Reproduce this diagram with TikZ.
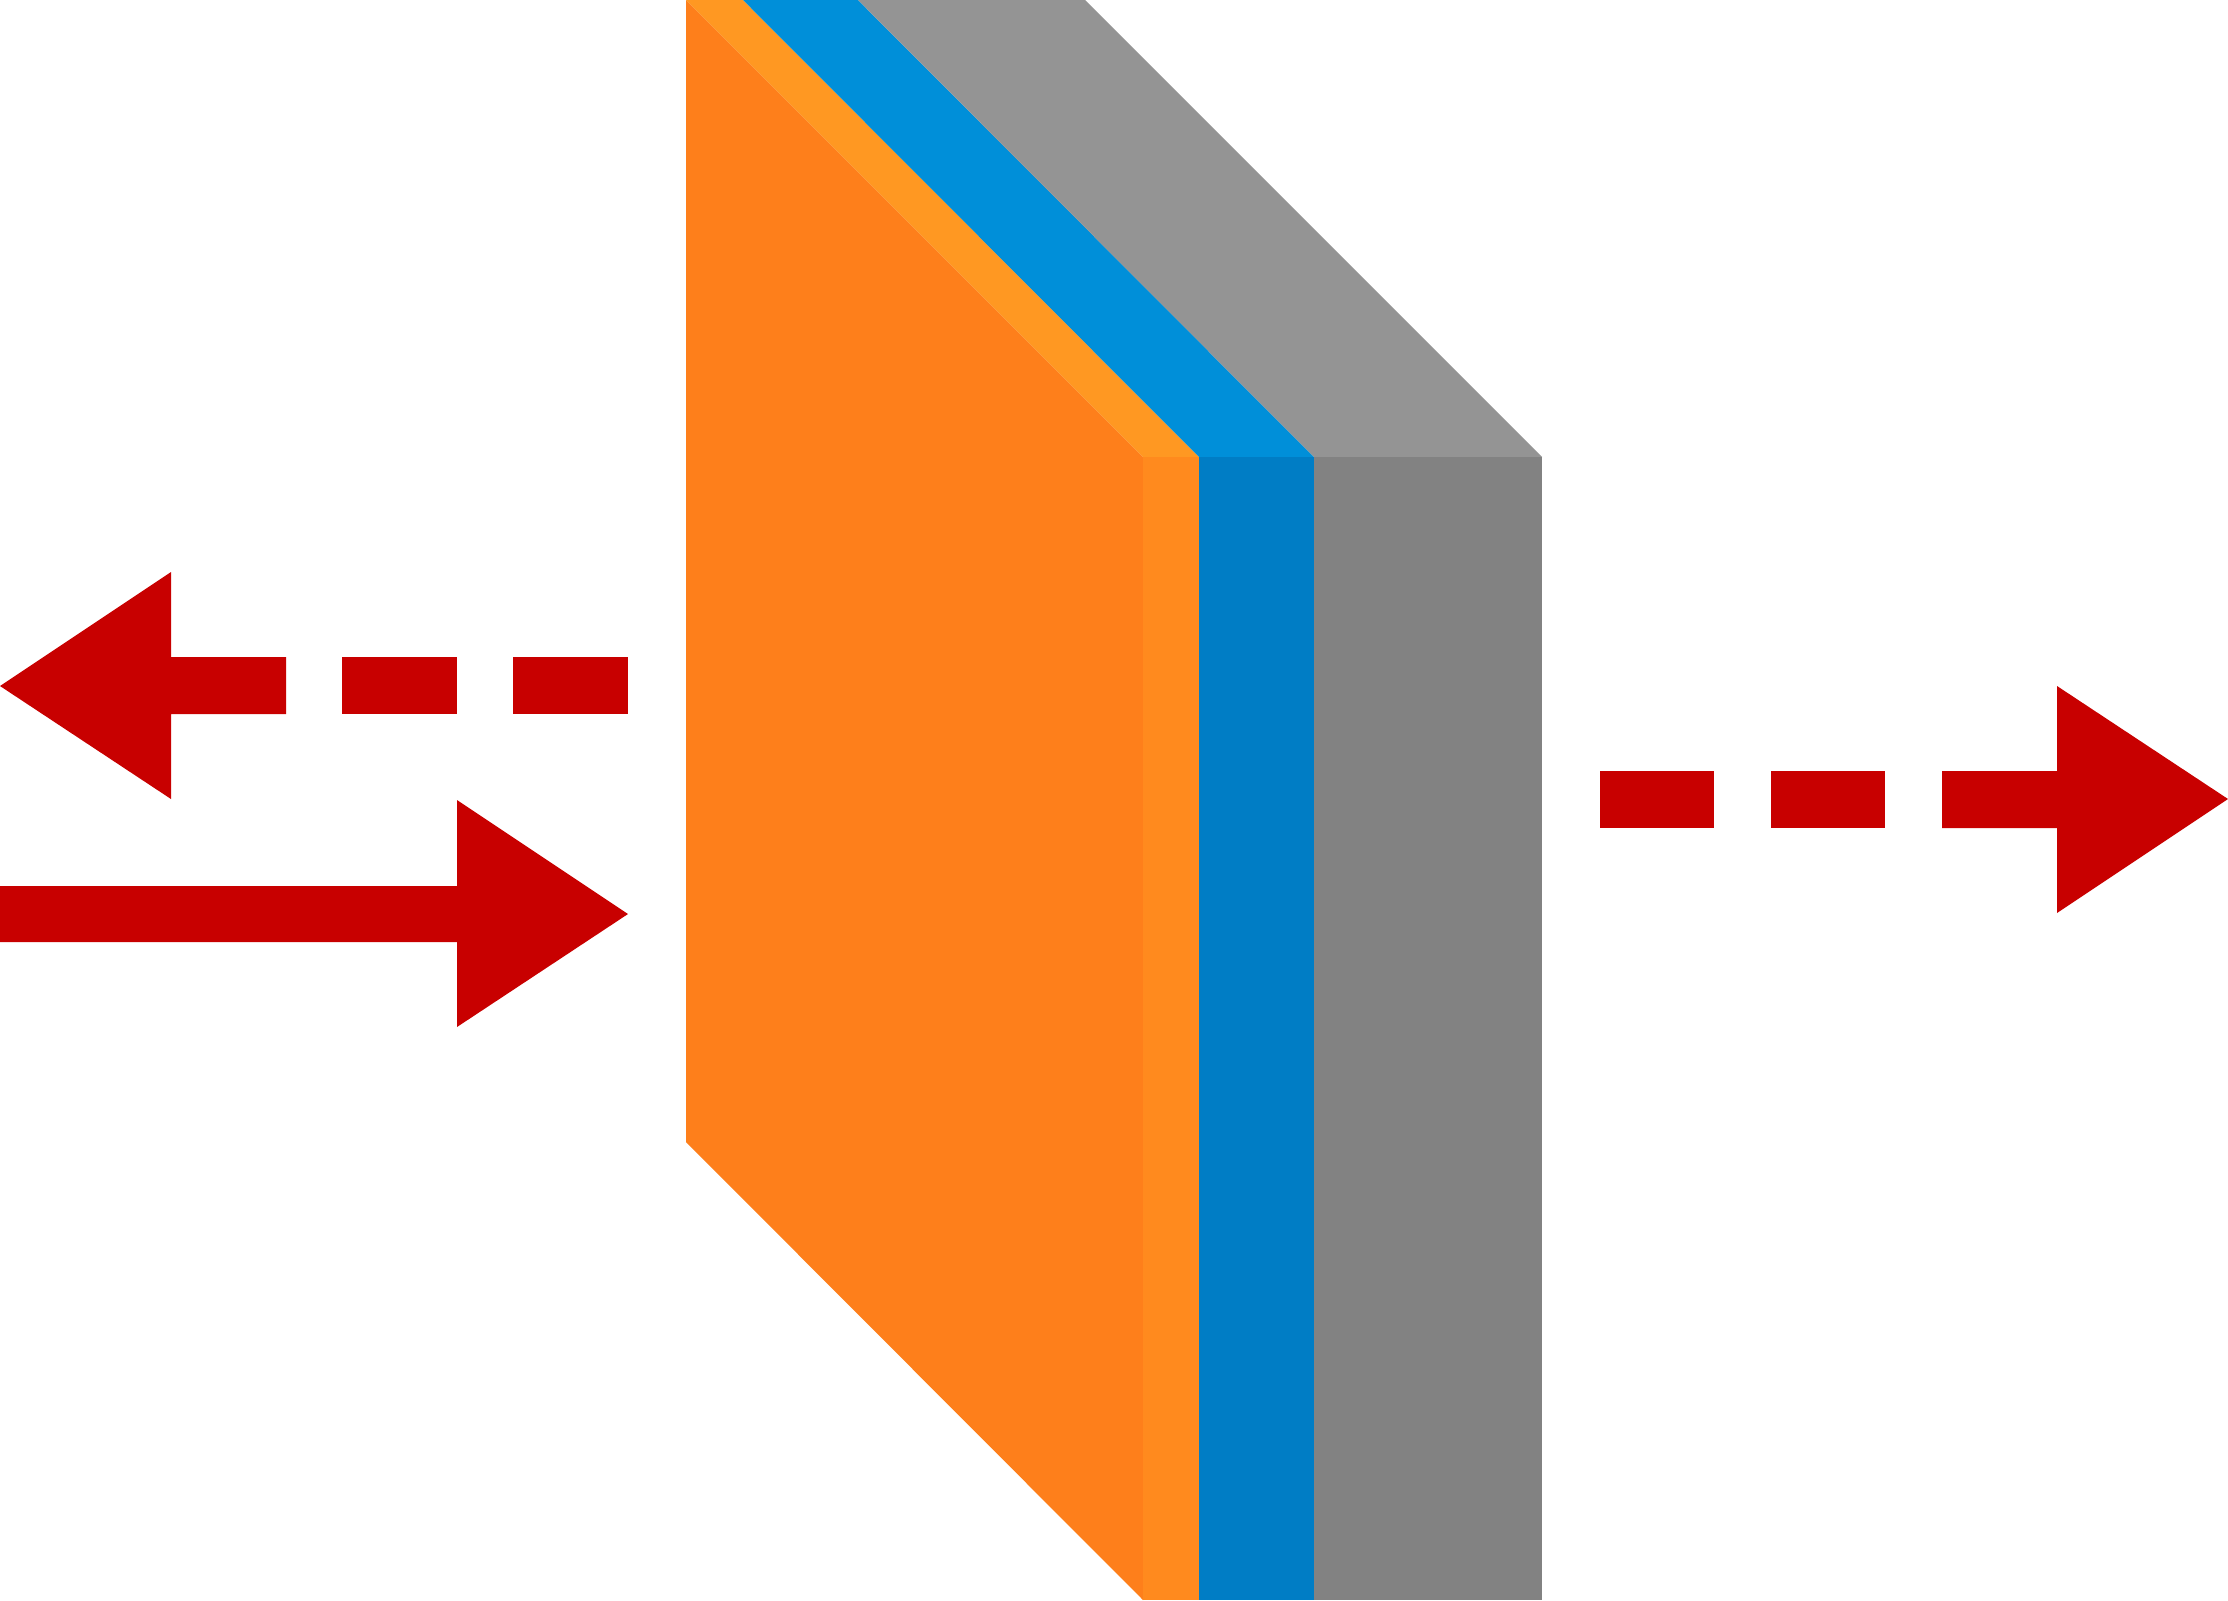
\documentclass[tikz,border=0pt]{standalone}
\definecolor{orfront}{HTML}{FE7F1B}
\definecolor{ortop}{HTML}{FF9822}
\definecolor{orside}{HTML}{FF8A1E}
\definecolor{bltop}{HTML}{008FD9}
\definecolor{blside}{HTML}{007DC5}
\definecolor{grtop}{HTML}{949494}
\definecolor{grside}{HTML}{828282}
\definecolor{arrred}{HTML}{C80000}
\tikzset{
  redshape/.style={fill=arrred, draw=none},
  face/.style={draw=none}
}
\begin{document}
\begin{tikzpicture}[x=0.01cm,y=-0.01cm]
\useasboundingbox (0,0) rectangle (2228,1600);
% slab: front face
\fill[orfront] (686,0) -- (1143,457) -- (1143,1600) -- (686,1142) -- cycle;
% top faces
\fill[ortop] (686,0) -- (743,0) -- (1199,457) -- (1143,457) -- cycle;
\fill[bltop] (743,0) -- (858,0) -- (1314,457) -- (1199,457) -- cycle;
\fill[grtop] (858,0) -- (1085,0) -- (1542,457) -- (1314,457) -- cycle;
% side faces
\fill[orside] (1143,457) rectangle (1199,1600);
\fill[blside] (1199,457) rectangle (1314,1600);
\fill[grside] (1314,457) rectangle (1542,1600);
% left dashed arrow (pointing left)
\fill[redshape] (0,686) -- (171,572) -- (171,657) -- (286,657) -- (286,714) -- (171,714) -- (171,799) -- cycle;
\fill[redshape] (342,657) rectangle (457,714);
\fill[redshape] (513,657) rectangle (628,714);
% solid arrow (pointing right)
\fill[redshape] (0,886) -- (457,886) -- (457,800) -- (628,914) -- (457,1027) -- (457,942) -- (0,942) -- cycle;
% right dashed arrow
\fill[redshape] (1600,771) rectangle (1714,828);
\fill[redshape] (1771,771) rectangle (1885,828);
\fill[redshape] (1942,771) -- (2057,771) -- (2057,686) -- (2228,799) -- (2057,913) -- (2057,828) -- (1942,828) -- cycle;
\end{tikzpicture}
\end{document}
